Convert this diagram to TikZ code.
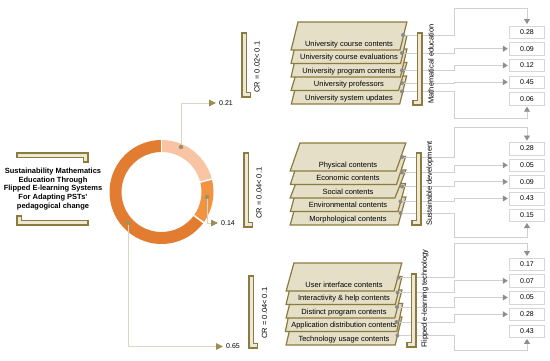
\documentclass[tikz,border=0pt]{standalone}
\usepackage{fontspec}
\setmainfont{Liberation Sans}
\usetikzlibrary{arrows.meta, positioning, shapes.geometric, calc}
\definecolor{kolive}{HTML}{8C7B3F}
\definecolor{kfill}{HTML}{E4DFC6}
\definecolor{kbrk}{HTML}{ECE8D3}
\definecolor{kdot}{HTML}{9A9462}
\definecolor{klead}{HTML}{DAD6C4}
\definecolor{ktip}{HTML}{9C8C4E}
\definecolor{gline}{HTML}{D0D0D0}
\definecolor{gtip}{HTML}{8E8E8E}
\definecolor{gdot}{HTML}{8A8A8A}
\definecolor{gbox}{HTML}{D6D6D6}
\definecolor{pie1}{HTML}{F8C4A4}
\definecolor{pie2}{HTML}{F29341}
\definecolor{pie3}{HTML}{E27C31}
\tikzset{
  layer/.style={trapezium, trapezium left angle=78, trapezium right angle=102,
                trapezium stretches=true, draw=kolive, fill=kfill, line width=1.2pt,
                minimum width=116pt, minimum height=28pt, inner sep=0pt,
                text height=24.2pt, text depth=3.8pt, font=\fontsize{7.5}{9}\selectfont},
  valbox/.style={draw=gbox, fill=white, minimum width=35pt, minimum height=12.5pt,
                 inner sep=0pt, font=\fontsize{7}{8}\selectfont},
  gdotn/.style={circle, fill=gdot, minimum size=4pt, inner sep=0pt},
  pdotn/.style={circle, fill=kdot, minimum size=4.5pt, inner sep=0pt},
  brk/.style={draw=kolive, fill=kbrk, line width=1.1pt},
  conn/.style={gline, line width=0.8pt, -{Triangle[length=5pt,width=6pt,color=gtip]}, shorten >=1.5pt},
  lead/.style={klead, line width=0.9pt, -{Triangle[length=7pt,width=6.5pt,color=ktip]}, shorten >=2pt},
  crtxt/.style={rotate=90, font=\fontsize{7.5}{9}\selectfont},
  pct/.style={anchor=west, inner sep=1pt, font=\fontsize{7}{8}\selectfont},
}
\begin{document}
\begin{tikzpicture}[x=1pt, y=-1pt]
  \useasboundingbox (0,0) rectangle (550,361);

  % title
  \node[font=\fontsize{7.5}{8.7}\selectfont\bfseries, align=center] (title) at (53,189)
    {Sustainability Mathematics\\Education Through\\Flipped E-learning Systems\\For Adapting PSTs'\\pedagogical change};
  \draw[brk] (17,153) -- (88,153) -- (88,162) -- (83.5,162) -- (83.5,157.5) -- (17,157.5) -- cycle;
  \draw[brk] (17,216) -- (21.5,216) -- (21.5,220.5) -- (88,220.5) -- (88,225) -- (17,225) -- cycle;

  % donut
  \coordinate (ctr) at (161.5,192);
  \fill[pie1] ([shift={(90:52pt)}]ctr) arc[start angle=90, end angle=14.4, radius=52pt]
    -- ([shift={(14.4:40pt)}]ctr) arc[start angle=14.4, end angle=90, radius=40pt] -- cycle;
  \fill[pie2] ([shift={(14.4:52pt)}]ctr) arc[start angle=14.4, end angle=-36, radius=52pt]
    -- ([shift={(-36:40pt)}]ctr) arc[start angle=-36, end angle=14.4, radius=40pt] -- cycle;
  \fill[pie3] ([shift={(-36:52pt)}]ctr) arc[start angle=-36, end angle=-270, radius=52pt]
    -- ([shift={(90:40pt)}]ctr) arc[start angle=-270, end angle=-36, radius=40pt] -- cycle;
  \draw[white, line width=1.5pt] ([shift={(90:39pt)}]ctr) -- ([shift={(90:53pt)}]ctr);
  \draw[white, line width=1.5pt] ([shift={(14.4:39pt)}]ctr) -- ([shift={(14.4:53pt)}]ctr);
  \draw[white, line width=1.5pt] ([shift={(-36:39pt)}]ctr) -- ([shift={(-36:53pt)}]ctr);

  \node[pct] (v21) at (218,103) {0.21};
  \node[pct] (v14) at (220,223) {0.14};
  \node[pct] (v65) at (225,346.5) {0.65};
  \node[pdotn] (p21) at (181,147) {};
  \node[pdotn] (p14) at (207,197) {};
  \node[pdotn] (p65) at (128,223) {};
  \draw[lead] (p21) |- (v21);
  \draw[lead] (p14) |- (v14);
  \draw[lead] (p65) |- (v65);

  % consistency brackets
  \draw[brk] (242,33) -- (246.5,33) -- (246.5,92.5) -- (250.5,92.5) -- (250.5,97) -- (242,97) -- cycle;
  \node[crtxt] (cr1) at (257,67) {CR = 0.02< 0.1};
  \draw[brk] (244,153) -- (248.5,153) -- (248.5,222.5) -- (252.5,222.5) -- (252.5,227) -- (244,227) -- cycle;
  \node[crtxt] (cr2) at (259,193) {CR = 0.04< 0.1};
  \draw[brk] (249,276) -- (253.5,276) -- (253.5,343.5) -- (257.5,343.5) -- (257.5,348) -- (249,348) -- cycle;
  \node[crtxt] (cr3) at (264.5,313) {CR = 0.04< 0.1};

  % group 1
  \node[layer] (m15) at (349,90) {University system updates};
  \node[layer] (m14) at (349,76.5) {University professors};
  \node[layer] (m13) at (349,63) {University program contents};
  \node[layer] (m12) at (349,49.5) {University course evaluations};
  \node[layer] (m11) at (349,36) {University course contents};

  \node[valbox] (b11) at (527,32) {0.28};
  \node[valbox] (b12) at (527,48.7) {0.09};
  \node[valbox] (b13) at (527,65.4) {0.12};
  \node[valbox] (b14) at (527,82.1) {0.45};
  \node[valbox] (b15) at (527,98.8) {0.06};

  \node[gdotn] (d11) at (403,35) {};
  \node[gdotn] (d12) at (402,53) {};
  \node[gdotn] (d13) at (402,70.5) {};
  \node[gdotn] (d14) at (402,83) {};
  \node[gdotn] (d15) at (402,91.5) {};

  \coordinate (u1) at (454,8);
  \coordinate (l1) at (454,118);
  \draw[conn] (d11) -- (d11 -| u1) -- (u1) -| (b11.north);
  \draw[conn] (d12) -- (d12 -| u1) |- (b12.west);
  \draw[conn] (d13) -- (d13 -| u1) |- (b13.west);
  \draw[conn] (d14) -- (d14 -| u1) |- (b14.west);
  \draw[conn] (d15) -- (d15 -| l1) -- (l1) -| (b15.south);

  \draw[brk] (417.5,33) -- (422,33) -- (422,105) -- (413,105) -- (413,100.5) -- (417.5,100.5) -- cycle;
  \node[crtxt] (lab1) at (431,64) {Mathematical education};

  % group 2
  \node[layer] (m25) at (348,211) {Morphological contents};
  \node[layer] (m24) at (348,197.5) {Environmental contents};
  \node[layer] (m23) at (348,184) {Social contents};
  \node[layer] (m22) at (348,170.5) {Economic contents};
  \node[layer] (m21) at (348,157) {Physical contents};

  \node[valbox] (b21) at (527,148.5) {0.28};
  \node[valbox] (b22) at (527,165.2) {0.05};
  \node[valbox] (b23) at (527,181.8) {0.09};
  \node[valbox] (b24) at (527,198.5) {0.43};
  \node[valbox] (b25) at (527,215.1) {0.15};

  \node[gdotn] (d21) at (402,157) {};
  \node[gdotn] (d22) at (402,172.5) {};
  \node[gdotn] (d23) at (402,186.5) {};
  \node[gdotn] (d24) at (400.5,201.5) {};
  \node[gdotn] (d25) at (400.5,213) {};

  \coordinate (u2) at (454,127);
  \coordinate (l2) at (454,237);
  \draw[conn] (d21) -- (d21 -| u2) -- (u2) -| (b21.north);
  \draw[conn] (d22) -- (d22 -| u2) |- (b22.west);
  \draw[conn] (d23) -- (d23 -| u2) |- (b23.west);
  \draw[conn] (d24) -- (d24 -| u2) |- (b24.west);
  \draw[conn] (d25) -- (d25 -| l2) -- (l2) -| (b25.south);

  \draw[brk] (416.5,153) -- (421,153) -- (421,225) -- (412,225) -- (412,220.5) -- (416.5,220.5) -- cycle;
  \node[crtxt] (lab2) at (430,183.5) {Sustainable development};

  % group 3
  \node[layer] (m35) at (344,331) {Technology usage contents};
  \node[layer] (m34) at (344,317.5) {Application distribution contents};
  \node[layer] (m33) at (344,304) {Distinct program contents};
  \node[layer] (m32) at (344,290.5) {Interactivity \& help contents};
  \node[layer] (m31) at (344,277) {User interface contents};

  \node[valbox] (b31) at (527,264) {0.17};
  \node[valbox] (b32) at (527,280.8) {0.07};
  \node[valbox] (b33) at (527,297.5) {0.05};
  \node[valbox] (b34) at (527,314.3) {0.28};
  \node[valbox] (b35) at (527,331) {0.43};

  \node[gdotn] (d31) at (398.5,277.5) {};
  \node[gdotn] (d32) at (397.5,292.5) {};
  \node[gdotn] (d33) at (397,307) {};
  \node[gdotn] (d34) at (396.5,322) {};
  \node[gdotn] (d35) at (397.5,335.5) {};

  \coordinate (u3) at (454,243);
  \coordinate (l3) at (454,350);
  \draw[conn] (d31) -- (d31 -| u3) -- (u3) -| (b31.north);
  \draw[conn] (d32) -- (d32 -| u3) |- (b32.west);
  \draw[conn] (d33) -- (d33 -| u3) |- (b33.west);
  \draw[conn] (d34) -- (d34 -| u3) |- (b34.west);
  \draw[conn] (d35) -- (d35 -| l3) -- (l3) -| (b35.south);

  \draw[brk] (411.5,274) -- (416,274) -- (416,347) -- (407,347) -- (407,342.5) -- (411.5,342.5) -- cycle;
  \node[crtxt] (lab3) at (425,298.5) {Flipped e-learning technology};
\end{tikzpicture}
\end{document}
